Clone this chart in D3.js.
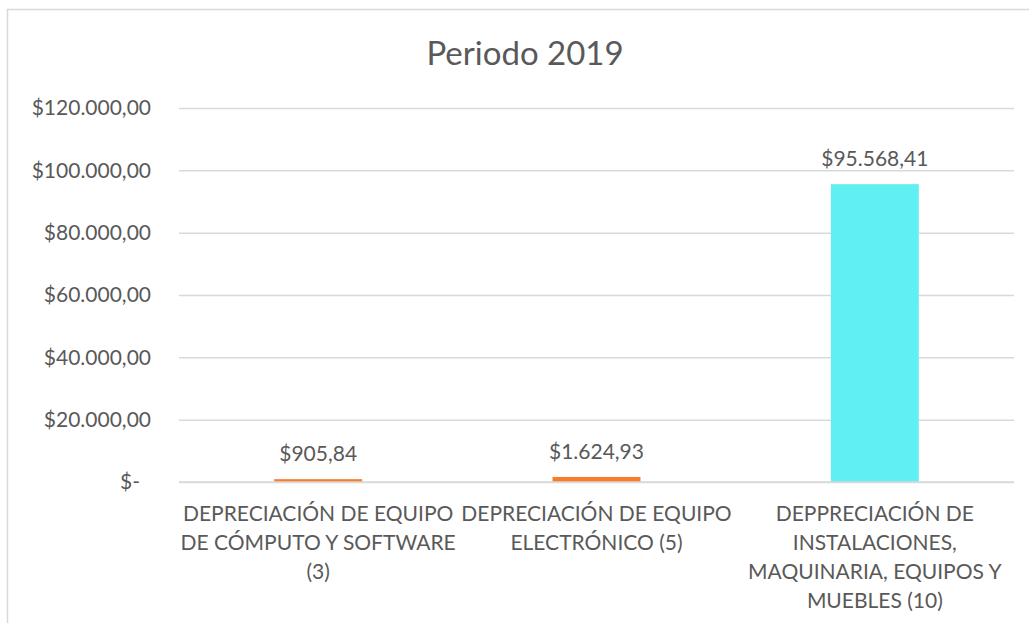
<!DOCTYPE html>
<html>
<head>
<meta charset="utf-8">
<script src="https://cdn.jsdelivr.net/npm/d3@7"></script>
<style>
  html, body { margin: 0; padding: 0; background: #fff; }
  svg { display: block; font-family: Lato, "Open Sans", sans-serif; }
</style>
</head>
<body>
<svg id="chart" width="1029" height="623"></svg>
<script>
const title = "Periodo 2019";
const categories = [
  "DEPRECIACIÓN DE EQUIPO\nDE CÓMPUTO Y SOFTWARE\n(3)",
  "DEPRECIACIÓN DE EQUIPO\nELECTRÓNICO (5)",
  "DEPPRECIACIÓN DE\nINSTALACIONES,\nMAQUINARIA, EQUIPOS Y\nMUEBLES (10)"
];
const values = [905.84, 1624.93, 95568.41];
const barColors = ["#F97C2A", "#F97C2A", "#60F0F3"];
const yTicks = [0, 20000, 40000, 60000, 80000, 100000, 120000];

const locale = d3.formatLocale({ decimal: ",", thousands: ".", grouping: [3], currency: ["$", ""] });
const fmt = locale.format("$,.2f");
const tickFmt = v => v === 0 ? "$-" : fmt(v);

const svg = d3.select("#chart");
const W = 1029, H = 623;
const plot = { left: 179, right: 1014, top: 108, bottom: 482 };
const textColor = "#595959";
const gridColor = "#D9D9D9";

// chart border
svg.append("rect")
  .attr("x", 7.5).attr("y", 9.5).attr("width", 1060).attr("height", 700)
  .attr("fill", "#fff").attr("stroke", gridColor).attr("stroke-width", 1.5);

const x = d3.scaleBand()
  .domain(d3.range(categories.length))
  .range([plot.left, plot.right])
  .paddingInner(0.684).paddingOuter(0.342);

const y = d3.scaleLinear().domain([0, 120000]).range([plot.bottom, plot.top]);

// title
svg.append("text")
  .attr("x", 525).attr("y", 65)
  .attr("text-anchor", "middle")
  .attr("font-size", 33)
  .attr("fill", textColor)
  .text(title);

// y axis with gridlines
const yAxis = d3.axisLeft(y)
  .tickValues(yTicks)
  .tickFormat(tickFmt)
  .tickSize(-(plot.right - plot.left))
  .tickPadding(28);

const gy = svg.append("g")
  .attr("transform", `translate(${plot.left},0)`)
  .call(yAxis);
gy.select(".domain").remove();
gy.selectAll(".tick line").attr("stroke", gridColor).attr("stroke-width", 1.5);
gy.selectAll(".tick text")
  .attr("font-size", 21)
  .attr("fill", textColor)
  .attr("font-family", "Lato, 'Open Sans', sans-serif")
  .attr("dx", d => d === 0 ? -11 : 0);

// bars
svg.append("g").selectAll("rect")
  .data(values)
  .join("rect")
  .attr("x", (d, i) => x(i))
  .attr("width", x.bandwidth())
  .attr("y", d => y(d))
  .attr("height", d => y(0) - y(d))
  .attr("fill", (d, i) => barColors[i]);

// baseline redraw (axis line over bars)
svg.append("line")
  .attr("x1", plot.left).attr("x2", plot.right)
  .attr("y1", y(0)).attr("y2", y(0))
  .attr("stroke", gridColor).attr("stroke-width", 1.5);

// data labels
svg.append("g").selectAll("text")
  .data(values)
  .join("text")
  .attr("x", (d, i) => x(i) + x.bandwidth() / 2)
  .attr("y", d => y(d) - 18)
  .attr("text-anchor", "middle")
  .attr("font-size", 21)
  .attr("fill", textColor)
  .text(d => fmt(d));

// category labels
const cat = svg.append("g").selectAll("text")
  .data(categories)
  .join("text")
  .attr("text-anchor", "middle")
  .attr("font-size", 21)
  .attr("fill", textColor);
cat.each(function(d, i) {
  const cx = x(i) + x.bandwidth() / 2;
  d3.select(this).selectAll("tspan")
    .data(d.split("\n"))
    .join("tspan")
    .attr("x", cx)
    .attr("y", (l, j) => 521 + j * 29)
    .text(l => l);
});
</script>
</body>
</html>
